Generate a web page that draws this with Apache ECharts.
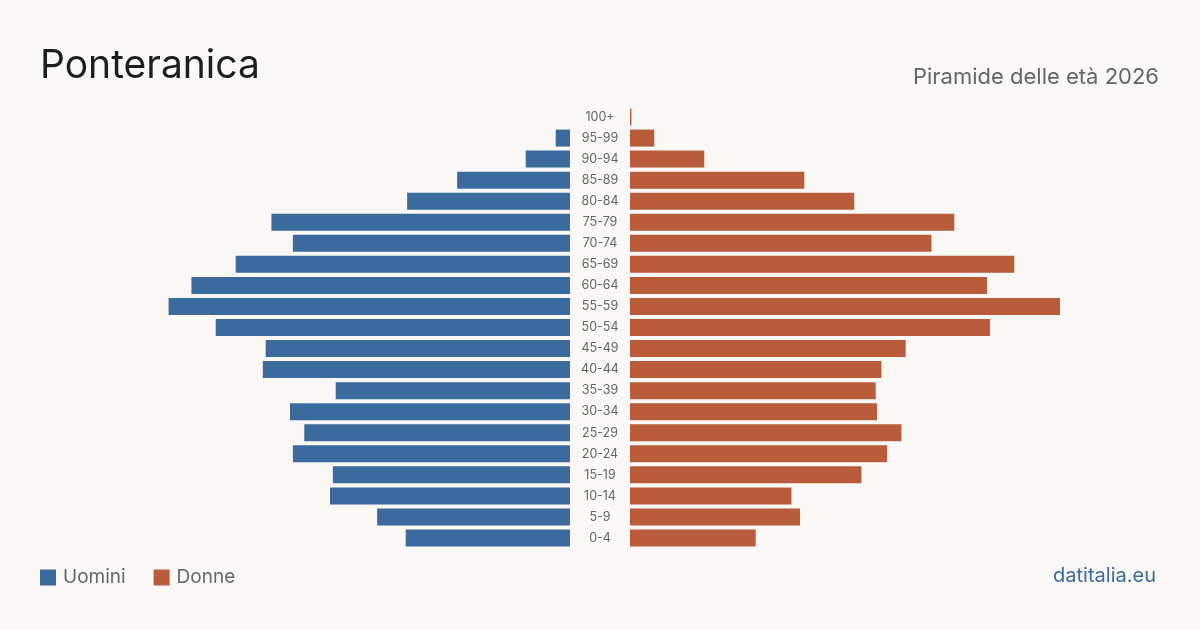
<!DOCTYPE html>
<html>
<head>
<meta charset="utf-8">
<script src="https://cdn.jsdelivr.net/npm/echarts@6/dist/echarts.min.js"></script>
<style>
  html, body { margin: 0; padding: 0; background: #f9f8f4; }
  #chart { width: 1200px; height: 630px; }
</style>
</head>
<body>
<div id="chart"></div>
<script>
// age groups, top to bottom as drawn
const ageGroups = ['100+', '95-99', '90-94', '85-89', '80-84', '75-79', '70-74', '65-69', '60-64', '55-59',
  '50-54', '45-49', '40-44', '35-39', '30-34', '25-29', '20-24', '15-19', '10-14', '5-9', '0-4'];
// estimated counts
const men = [0, 10, 31, 79, 114, 209, 194, 234, 265, 281, 248, 213, 215, 164, 196, 186, 194, 166, 168, 135, 115];
const women = [1, 17, 52, 122, 157, 227, 211, 269, 250, 301, 252, 193, 176, 172, 173, 190, 180, 162, 113, 119, 88];

const BLUE = '#3a6b9c';
const RED = '#b95c3b';
const FONT = 'Inter, "Noto Sans", sans-serif';
const MAX = 350;

const chart = echarts.init(document.getElementById('chart'));

chart.setOption({
  backgroundColor: '#f9f8f4',
  animation: false,
  textStyle: { fontFamily: FONT },
  title: [{
    text: 'Ponteranica',
    left: 40, top: 47, padding: 0,
    textStyle: { fontSize: 39, fontWeight: 'normal', color: '#1e1e1e', fontFamily: FONT }
  }, {
    text: 'Piramide delle età 2026',
    right: 41, top: 66, padding: 0,
    textStyle: { fontSize: 22, fontWeight: 'normal', color: '#666', fontFamily: FONT }
  }, {
    text: 'datitalia.eu',
    right: 44, top: 566, padding: 0,
    textStyle: { fontSize: 20, fontWeight: 'normal', color: BLUE, fontFamily: FONT }
  }],
  legend: {
    left: 40, top: 568, padding: 0,
    itemWidth: 16, itemHeight: 16, itemGap: 28,
    icon: 'rect',
    textStyle: { fontSize: 19, color: '#666', fontFamily: FONT, padding: [0, 0, 0, 2] },
    data: ['Uomini', 'Donne']
  },
  grid: [
    { left: 70, width: 500, top: 106.5, height: 442 },
    { left: 630, width: 500, top: 106.5, height: 442 }
  ],
  xAxis: [
    { gridIndex: 0, type: 'value', min: 0, max: MAX, inverse: true, show: false },
    { gridIndex: 1, type: 'value', min: 0, max: MAX, show: false }
  ],
  yAxis: [
    { gridIndex: 0, type: 'category', data: ageGroups, inverse: true, show: false },
    {
      gridIndex: 1, type: 'category', data: ageGroups, inverse: true, position: 'left',
      axisLine: { show: false }, axisTick: { show: false }, splitLine: { show: false },
      axisLabel: { margin: 30, align: 'center', color: '#666', fontSize: 12.5, fontFamily: FONT }
    }
  ],
  series: [{
    name: 'Uomini', type: 'bar', xAxisIndex: 0, yAxisIndex: 0,
    data: men, barWidth: 17, itemStyle: { color: BLUE }
  }, {
    name: 'Donne', type: 'bar', xAxisIndex: 1, yAxisIndex: 1,
    data: women, barWidth: 17, itemStyle: { color: RED }
  }]
});
</script>
</body>
</html>
